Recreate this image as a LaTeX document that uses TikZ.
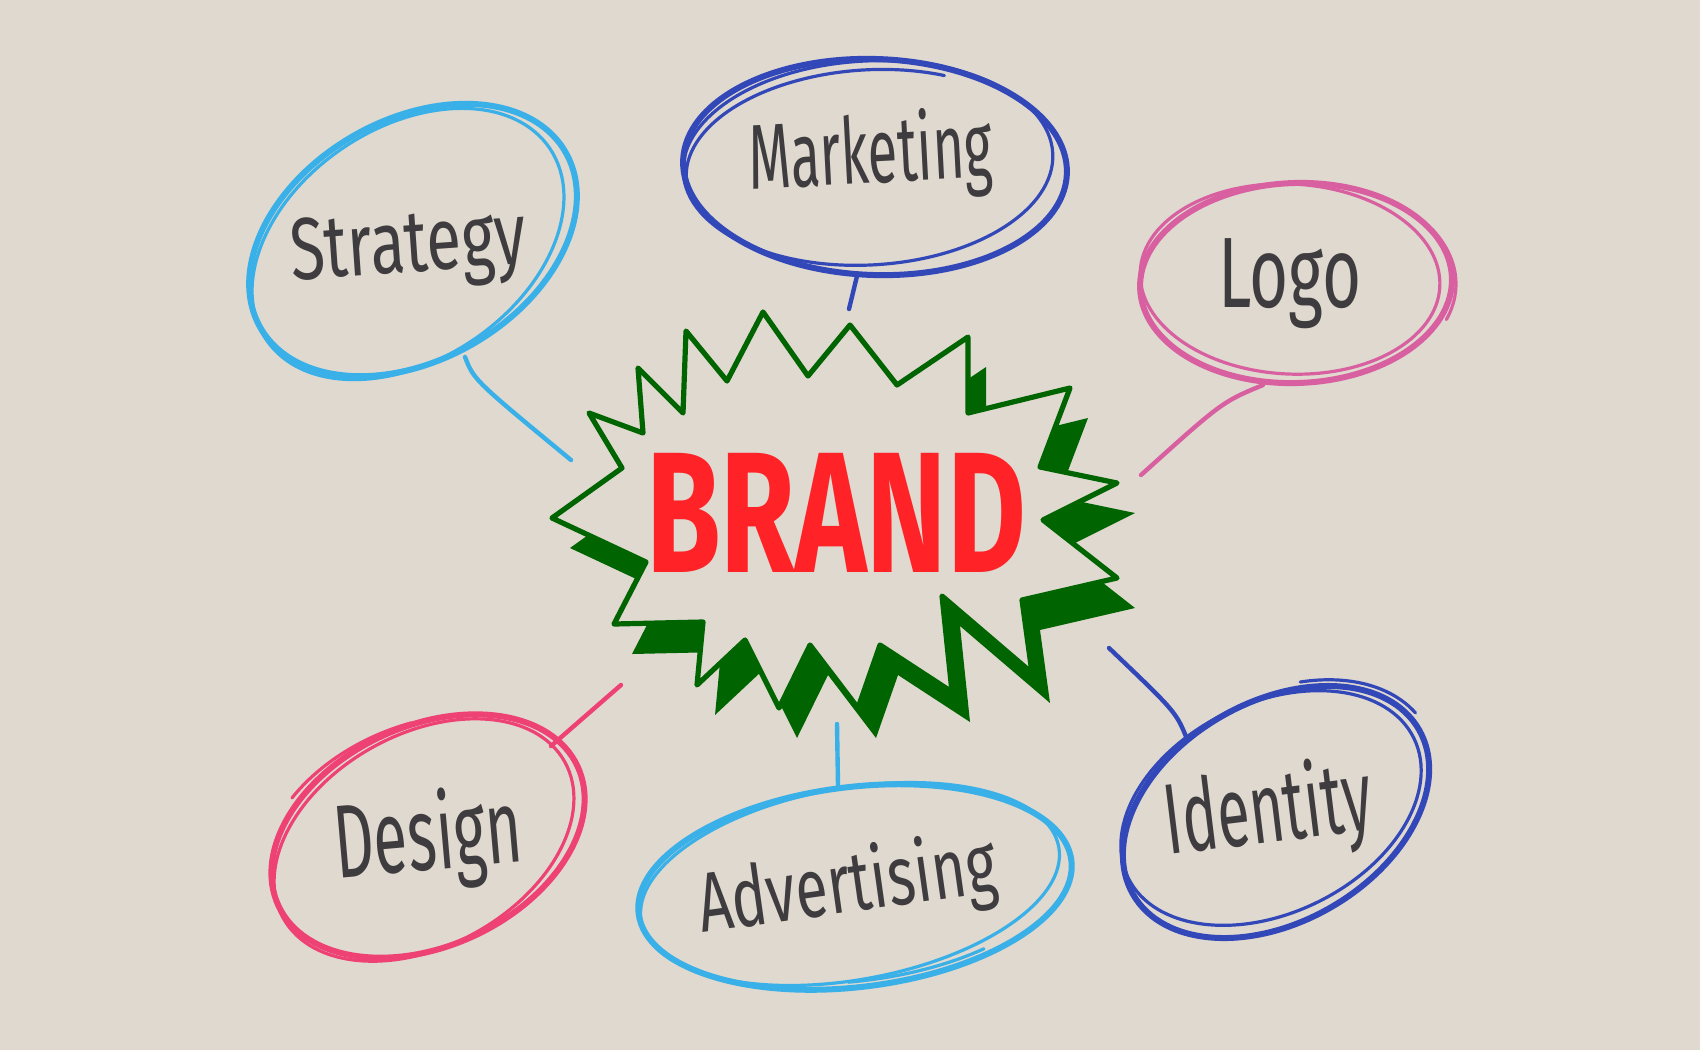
\documentclass[tikz,border=0pt]{standalone}
\usepackage{fontspec}
\setmainfont{Fira Sans}
\usepackage{graphicx}
\definecolor{bg}{RGB}{223,217,208}
\definecolor{lblue}{RGB}{58,176,232}
\definecolor{dblue}{RGB}{51,72,184}
\definecolor{lpink}{RGB}{217,96,160}
\definecolor{rpink}{RGB}{238,66,117}
\definecolor{bgreen}{RGB}{0,100,0}
\definecolor{bred}{RGB}{255,34,38}
\definecolor{ink}{RGB}{62,60,62}
\newcommand\hellipse[6]{\draw[#1, shift={(#2,#3)}, rotate=#6] (0,0) ellipse [x radius=#4, y radius=#5];}
\newcommand\harc[8]{\draw[#1, shift={(#2,#3)}, rotate=#6] ({#7}:{#4*0.5pt} and {#5*0.5pt}) arc [start angle=#7, end angle=#8, x radius=#4*0.5pt, y radius=#5*0.5pt];}
\def\burst{(646,562) -- (614,624) -- (703,622) -- (697,685) -- (745,640) -- (779,708) -- (810,645) -- (858,708) -- (880,645) -- (952,692) -- (942,596) -- (1032,673) -- (1022,600) -- (1117,578) -- (1043,520) -- (1117,483) -- (1040,467) -- (1070,388) -- (968,413) -- (968,337) -- (897,385) -- (850,325) -- (808,376) -- (763,312) -- (727,381) -- (686,331) -- (683,413) -- (638,368) -- (643,433) -- (589,413) -- (622,468) -- (552,518) -- cycle}
\begin{document}
\begin{tikzpicture}[x=0.5pt,y=-0.5pt,
  thick stroke/.style={line width=3pt, line cap=round},
  thin stroke/.style={line width=1.6pt, line cap=round},
  link/.style={line width=2.2pt, line cap=round},
  lbl/.style={text=ink, inner sep=0pt, anchor=base},
]
\fill[bg] (0,0) rectangle (1700,1050);
\useasboundingbox (0,0) rectangle (1700,1050);

% ---- starburst ----
\fill[bgreen, shift={(18,30)}, line join=round] \burst;
\fill[bg] \burst;
\draw[bgreen, line width=2.6pt, line join=round] \burst;
\node[text=bred, inner sep=0pt, anchor=base] (brand) at (836,572)
  {\resizebox{190pt}{\height}{\fontsize{86}{86}\selectfont\bfseries BRAND}};

% ---- ellipses ----
\hellipse{lblue, thick stroke}{413}{240}{176}{120}{30}
\hellipse{lblue, thin stroke}{408}{244}{171}{116}{34}
\hellipse{dblue, thick stroke}{875}{167}{192}{108}{-2}
\hellipse{dblue, thin stroke}{868}{163}{185}{102}{3}
\harc{dblue, thin stroke}{866}{166}{180}{96}{4}{195}{62}
\hellipse{lpink, thick stroke}{1296}{283}{156}{100}{2}
\hellipse{lpink, thin stroke}{1290}{279}{150}{95}{-3}
\harc{lpink, thin stroke}{1296}{284}{160}{104}{0}{32}{-20}
\hellipse{rpink, thick stroke}{428}{836}{165}{110}{25}
\hellipse{rpink, thin stroke}{424}{840}{161}{106}{29}
\harc{rpink, thin stroke}{426}{838}{170}{114}{22}{130}{80}
\hellipse{lblue, thick stroke}{855}{887}{218}{100}{7}
\hellipse{lblue, thin stroke}{850}{884}{212}{96}{10}
\harc{lblue, thin stroke}{855}{887}{210}{94}{7}{-95}{-55}
\hellipse{dblue, thick stroke}{1276}{812}{165}{110}{30}
\hellipse{dblue, thin stroke}{1271}{808}{159}{105}{26}
\harc{dblue, thin stroke}{1276}{812}{172}{116}{30}{60}{8}

% ---- labels ----
\node[lbl, rotate=4] (strategy) at (410,272)
  {\resizebox{118pt}{\height}{\fontsize{44}{44}\selectfont Strategy}};
\node[lbl, rotate=3] (marketing) at (872,183)
  {\resizebox{122pt}{\height}{\fontsize{46}{46}\selectfont Marketing}};
\node[lbl] (logo) at (1290,307)
  {\resizebox{72pt}{\height}{\fontsize{50}{50}\selectfont Logo}};
\node[lbl, rotate=5] (design) at (431,870)
  {\resizebox{94pt}{\height}{\fontsize{52}{52}\selectfont Design}};
\node[lbl, rotate=8] (advertising) at (851,912)
  {\resizebox{150pt}{\height}{\fontsize{42}{42}\selectfont Advertising}};
\node[lbl, rotate=7] (identity) at (1272,842)
  {\resizebox{104pt}{\height}{\fontsize{50}{50}\selectfont Identity}};

% ---- connectors ----
\coordinate (s1) at (465,357);  \coordinate (s2) at (571,460);
\coordinate (m1) at (857,276);  \coordinate (m2) at (849,309);
\coordinate (l1) at (1263,385); \coordinate (l2) at (1141,475);
\coordinate (d1) at (551,746);  \coordinate (d2) at (621,685);
\coordinate (a1) at (837,724);  \coordinate (a2) at (838,786);
\coordinate (i1) at (1109,648); \coordinate (i2) at (1187,739);
\draw[lblue, link] (s1) .. controls (474,380) .. (s2);
\draw[dblue, link] (m1) -- (m2);
\draw[lpink, link] (l1) .. controls (1222,402) .. (l2);
\draw[rpink, link] (d1) -- (d2);
\draw[lblue, link] (a1) -- (a2);
\draw[dblue, link] (i1) .. controls (1176,712) .. (i2);
\end{tikzpicture}
\end{document}
